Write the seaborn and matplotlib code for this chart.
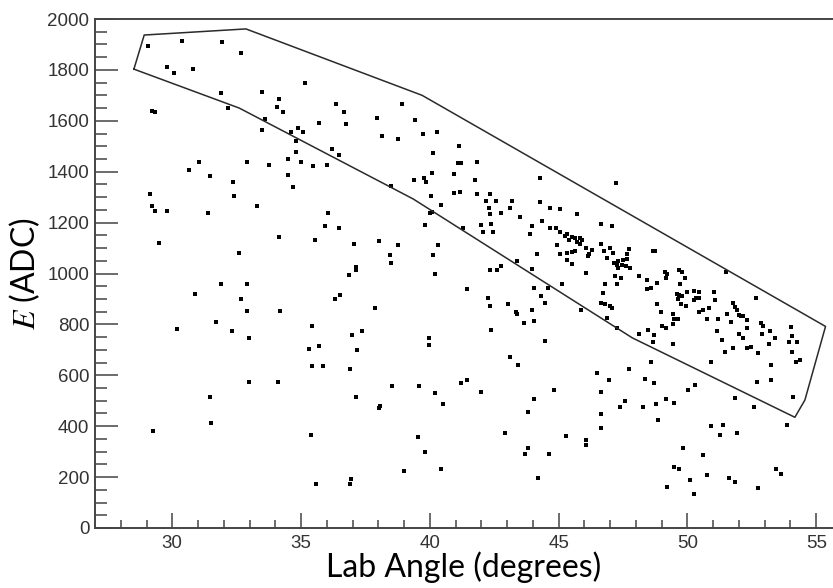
import numpy as np
import pandas as pd
import matplotlib
matplotlib.use("Agg")
import matplotlib.pyplot as plt
import seaborn as sns

# scatter points: lab angle (deg), energy (ADC)
angle = [
    29.07, 30.38, 31.94, 32.67, 29.79, 30.07, 30.79, 31.88, 33.49, 34.15, 34.06, 32.15, 33.6, 33.49,
    29.2, 29.34, 31.05, 30.65, 31.46, 32.34, 32.89, 33.75,
    35.16, 34.28, 36.35, 36.68, 36.73, 35.69, 34.9, 34.61, 35.06, 34.8, 34.8, 34.49, 35.01, 35.47,
    35.99, 36.21, 36.47, 34.49, 34.7, 37.96, 38.91, 39.42, 38.13, 38.76, 39.74, 40.26, 40.11, 41.15,
    41.09, 41.22, 40.93, 40.07, 39.78, 39.85, 39.37, 38.49,
    41.83, 41.77, 44.26, 47.23,
    29.13, 29.2, 29.34, 29.79, 31.37, 32.41, 33.29, 29.5, 34.14, 32.6, 31.88, 32.89, 30.89, 32.67,
    32.89, 34.18, 31.68, 30.17, 32.3, 32.98,
    36.06, 35.94, 36.46, 35.53, 37.04, 38.02, 38.75, 38.44, 38.49, 37.14, 37.14, 36.87, 36.51, 36.31,
    37.87, 35.42, 36.97, 37.35, 35.32, 35.69, 37.19, 39.95, 39.95, 40.05, 40.42, 40.0, 40.08, 39.83,
    40.31, 40.11, 40.21, 40.93, 41.18, 41.29,
    41.83, 42.34, 42.19, 42.55, 43.17, 42.29, 43.12, 42.34, 42.76, 43.48, 44.26, 44.67, 45.05, 45.72,
    41.98, 42.39, 42.08, 42.45, 43.95, 43.9, 44.36, 44.67, 44.88, 45.05, 45.24, 45.34, 45.5, 45.65,
    45.81, 45.91, 45.4, 45.71, 45.82, 44.93, 46.07, 46.28, 46.17, 46.12, 45.34, 45.5, 45.63, 45.05,
    45.34, 45.5, 44.15, 43.38, 42.76, 42.34, 42.6, 43.95, 46.07, 46.66, 47.07, 46.66, 47.0, 46.77,
    47.1, 46.87, 47.72, 47.65, 47.65, 47.49, 47.31, 47.26, 47.44, 47.62, 47.78, 47.29, 47.16, 47.18,
    47.41, 48.11, 48.42, 46.79, 47.28, 45.14, 46.74, 48.42, 44.05, 44.57, 44.31, 44.46, 42.24, 42.34,
    43.02, 43.33, 43.38, 43.95, 43.64, 44.05, 45.86, 46.64, 46.79, 47.0, 47.08, 46.87, 47.28, 48.11,
    48.45, 42.39, 44.46, 43.12, 41.46,
    48.65, 48.75, 51.5, 52.68, 49.11, 49.22, 49.17, 49.68, 49.79, 49.89, 48.83, 48.57, 49.71, 49.58,
    49.68, 49.63, 49.79, 49.74, 49.94, 49.97, 50.25, 50.46, 50.33, 50.46, 50.25, 51.03, 51.08, 48.83,
    48.96, 49.42, 49.48, 49.45, 49.63, 50.43, 50.59, 50.82, 50.77, 51.18, 51.55, 51.7, 51.75, 51.86,
    51.91, 51.99, 52.06, 52.17, 52.32, 49.01, 49.17, 49.42, 48.7, 48.67, 51.13, 51.34, 51.44, 51.75,
    52.01, 52.17, 52.32, 52.32, 52.48, 52.74, 52.84, 52.92, 52.89, 53.2, 53.41, 53.15, 54.03, 54.06,
    53.93, 54.24, 54.06,
    35.43, 35.85, 36.88, 32.98, 34.12, 31.46, 37.14, 38.54, 39.57, 38.07, 38.02, 31.51, 29.24, 35.38,
    39.52, 39.0, 35.59, 36.88, 36.94,
    43.43, 40.21, 40.52, 41.19, 41.45, 41.97, 44.05, 43.8, 44.83, 42.91, 39.8, 40.42, 43.8, 43.69,
    44.62, 44.21, 45.3, 46.07, 46.07, 46.5, 46.96, 46.65, 47.74, 46.65, 46.65, 47.38, 47.59, 48.26,
    48.36, 48.72, 48.79, 49.15, 49.46, 48.84, 48.57, 50.03, 50.29, 50.91, 51.84, 52.59, 52.7, 53.26,
    53.26, 54.09, 53.87, 54.22, 54.38, 50.91, 51.38, 51.27, 51.94, 49.82, 50.6, 49.46, 49.67, 50.75,
    51.63, 51.84, 49.2, 50.08, 50.24, 52.72, 53.42, 53.63,
]
energy = [
    1893, 1914, 1908, 1866, 1813, 1788, 1802, 1708, 1713, 1686, 1655, 1650, 1607, 1565,
    1640, 1633, 1438, 1407, 1382, 1358, 1438, 1428,
    1750, 1633, 1665, 1633, 1586, 1591, 1570, 1555, 1555, 1522, 1476, 1448, 1438, 1424,
    1428, 1490, 1464, 1386, 1338, 1612, 1665, 1602, 1539, 1528, 1549, 1555, 1475, 1501,
    1433, 1433, 1391, 1396, 1374, 1358, 1369, 1344,
    1438, 1369, 1374, 1354,
    1311, 1264, 1247, 1247, 1238, 1306, 1264, 1121, 1142, 1079, 957, 957, 921, 900,
    851, 851, 809, 783, 773, 746,
    1238, 1185, 1179, 1132, 1116, 1126, 1111, 1074, 1042, 1024, 1014, 994, 915, 900,
    863, 794, 757, 773, 705, 715, 698, 746, 720, 1306, 1269, 1238, 1243, 1191,
    1111, 1074, 999, 1316, 1322, 1179,
    1311, 1311, 1285, 1285, 1285, 1259, 1259, 1232, 1238, 1222, 1280, 1259, 1253, 1232,
    1191, 1196, 1164, 1164, 1185, 1154, 1206, 1180, 1180, 1164, 1149, 1154, 1143, 1138,
    1138, 1133, 1133, 1122, 1116, 1112, 1101, 1091, 1075, 1070, 1080, 1086, 1088, 1075,
    1054, 1039, 1075, 1049, 1028, 1012, 1012, 1018, 1002, 1196, 1185, 1117, 1101, 1088,
    1080, 1059, 1096, 1075, 1057, 1054, 1049, 1033, 1033, 1028, 1023, 1020, 1041, 989,
    984, 989, 973, 957, 957, 957, 923, 939, 942, 942, 910, 884, 905, 874,
    879, 847, 839, 858, 805, 815, 858, 884, 879, 874, 866, 824, 784, 763,
    779, 778, 736, 670, 938,
    1090, 1090, 1007, 905, 1007, 997, 984, 1015, 1004, 984, 963, 942, 957, 921,
    915, 900, 910, 879, 874, 926, 931, 926, 905, 905, 895, 926, 895, 879,
    847, 842, 821, 800, 821, 847, 858, 863, 821, 821, 842, 811, 884, 868,
    858, 837, 832, 834, 818, 795, 784, 724, 758, 732, 774, 737, 693, 708,
    763, 748, 784, 706, 711, 687, 805, 792, 761, 776, 748, 724, 790, 753,
    732, 729, 693,
    636, 636, 625, 573, 573, 514, 514, 557, 557, 479, 471, 414, 383, 367,
    357, 224, 172, 172, 193,
    641, 531, 488, 568, 583, 536, 505, 456, 541, 372, 298, 230, 313, 292,
    292, 198, 362, 346, 325, 610, 583, 536, 625, 446, 393, 477, 498, 477,
    587, 568, 488, 505, 493, 425, 653, 541, 562, 653, 510, 477, 573, 641,
    583, 514, 404, 654, 661, 399, 404, 367, 372, 313, 287, 240, 232, 209,
    198, 182, 161, 188, 135, 156, 230, 214,
]

# graphical cut polygon vertices
cut_angle = [28.51, 28.91, 32.86, 39.7, 55.36, 54.56, 54.17, 47.86, 39.35, 32.6, 28.51]
cut_energy = [1803, 1937, 1961, 1700, 792, 503, 435, 747, 1293, 1650, 1803]

df = pd.DataFrame({"angle": angle, "energy": energy})

sns.set_theme(style="white")
plt.rcParams["mathtext.fontset"] = "stix"

fig = plt.figure(figsize=(8.33, 5.88), dpi=100)
ax = fig.add_axes([95 / 833, 60 / 588, 738 / 833, 509 / 588])

sns.scatterplot(data=df, x="angle", y="energy", marker="s", s=10, color="black",
                linewidth=0, ax=ax)
sns.lineplot(x=cut_angle, y=cut_energy, sort=False, color="#2a2a2a", linewidth=1.1,
             estimator=None, ax=ax)

ax.set_xlim(27, 55.65)
ax.set_ylim(0, 2000)
ax.set_xticks([30, 35, 40, 45, 50, 55])
ax.set_xticks(np.arange(28, 56, 1), minor=True)
ax.set_yticks(np.arange(0, 2001, 200))
ax.set_yticks(np.arange(0, 2001, 50), minor=True)

for side in ["top", "left", "bottom"]:
    ax.spines[side].set_color("#444444")
    ax.spines[side].set_linewidth(1.4)
ax.spines["right"].set_visible(False)

ax.tick_params(axis="x", which="both", bottom=True, top=False)
ax.tick_params(axis="y", which="both", left=True, right=False)
ax.tick_params(axis="x", which="major", direction="in", length=11, width=1.1,
               color="#444444", labelsize=13.5, labelcolor="#333333", pad=5)
ax.tick_params(axis="x", which="minor", direction="in", length=5.5, width=1.1, color="#444444")
ax.tick_params(axis="y", which="major", direction="in", length=16.5, width=1.1,
               color="#444444", labelsize=13.5, labelcolor="#333333", pad=4)
ax.tick_params(axis="y", which="minor", direction="in", length=8.5, width=1.1, color="#444444")
for lab in ax.get_xticklabels() + ax.get_yticklabels():
    lab.set_family("Liberation Sans")

ax.set_xlabel("Lab Angle (degrees)", fontsize=23, family="Lato", color="black")
ax.set_ylabel("$E$ (ADC)", fontsize=23, family="Lato", color="black")
ax.xaxis.set_label_coords(0.5, -0.046)
ax.yaxis.set_label_coords(-0.072, 0.5)

fig.savefig("out.png", dpi=100)
